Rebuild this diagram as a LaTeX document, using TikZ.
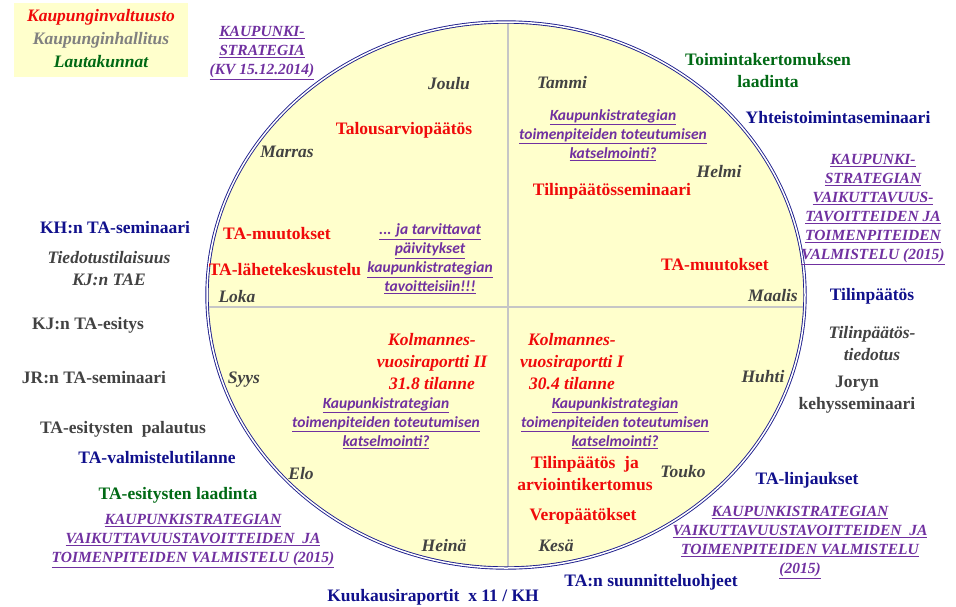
\documentclass[tikz,border=0pt]{standalone}
\usepackage{fontspec}
\setmainfont{Liberation Serif}
\newfontfamily\calib{Carlito}
\definecolor{tred}{RGB}{240,10,10}
\definecolor{tnavy}{RGB}{16,16,140}
\definecolor{tgreen}{RGB}{0,105,20}
\definecolor{tdark}{RGB}{66,66,66}
\definecolor{tgrey}{RGB}{128,128,128}
\definecolor{tpurp}{RGB}{112,48,160}
\definecolor{tfill}{RGB}{255,255,204}
\definecolor{tline}{RGB}{30,30,140}
\newcommand\uln[1]{\underline{#1}}
\tikzset{
  lbl/.style={inner sep=0pt, align=center, font=\fontsize{17.5}{22}\selectfont\bfseries},
  lbli/.style={inner sep=0pt, align=center, font=\fontsize{17.5}{22}\selectfont\bfseries\itshape},
  month/.style={lbli, text=tdark},
  redb/.style={lbl, text=tred},
  redi/.style={lbli, text=tred},
  navyb/.style={lbl, text=tnavy},
  greenb/.style={lbl, text=tgreen},
  darkb/.style={lbl, text=tdark},
  darki/.style={lbli, text=tdark},
  purps/.style={inner sep=0pt, align=center, text=tpurp, font=\fontsize{15.5}{19}\selectfont\bfseries\itshape},
  purpc/.style={inner sep=0pt, align=center, text=tpurp, font=\calib\fontsize{15.5}{19}\selectfont\bfseries\itshape},
  rim/.style={draw=tline, line width=0.9pt, double=white, double distance=1.5pt},
  divider/.style={draw=tline, line width=0.7pt, double=gray!45, double distance=1.2pt},
}
\begin{document}
\begin{tikzpicture}[x=1pt, y=-1pt]
\useasboundingbox (0,0) rectangle (956,606);

% legend box
\node[fill=tfill, minimum width=174pt, minimum height=74pt, inner sep=0pt] (legend) at (101,40) {};
\node[lbli, text=tred] (kv) at (101,17) {Kaupunginvaltuusto};
\node[lbli, text=tgrey] (kh) at (101,40) {Kaupunginhallitus};
\node[lbli, text=tgreen] (lk) at (101,62) {Lautakunnat};

% year wheel
\coordinate (c) at (506,295);
\fill[tfill] (c) ellipse [x radius=299pt, y radius=273pt];
\begin{scope}
  \clip (c) ellipse [x radius=299pt, y radius=273pt];
  \coordinate (vt) at (508,15);
  \coordinate (vb) at (508,575);
  \coordinate (hl) at (195,307);
  \coordinate (hr) at (815,307);
  \draw[divider] (vt) -- (vb);
  \draw[divider] (hl) -- (hr);
\end{scope}
\draw[rim] (c) ellipse [x radius=299pt, y radius=273pt];

% months
\node[month] (joulu) at (449,84) {Joulu};
\node[month] (marras) at (287,152) {Marras};
\node[month] (loka) at (237,297) {Loka};
\node[month] (syys) at (244,380) {Syys};
\node[month] (elo) at (301,474) {Elo};
\node[month] (heina) at (444,546) {Heinä};
\node[month] (kesa) at (556,546) {Kesä};
\node[month] (touko) at (683,472) {Touko};
\node[month] (huhti) at (763,377) {Huhti};
\node[month] (maalis) at (773,296) {Maalis};
\node[month] (helmi) at (719,172) {Helmi};
\node[month] (tammi) at (562,83) {Tammi};

% inside, upper left
\node[redb] (tapaatos) at (404,130) {Talousarviopäätös};
\node[redb] (tamuut1) at (277,234) {TA-muutokset};
\node[redb] (talahete) at (285,270) {TA-lähetekeskustelu};
\node[purpc] (paivit) at (430,259) {\uln{... ja tarvittavat}\\ \uln{päivitykset}\\ \uln{kaupunkistrategian}\\ \uln{tavoitteisiin!!!}};

% inside, upper right
\node[purpc] (katsel1) at (613,135) {\uln{Kaupunkistrategian}\\ \uln{toimenpiteiden toteutumisen}\\ \uln{katselmointi?}};
\node[redb] (tpsem) at (612,191) {Tilinpäätösseminaari};
\node[redb] (tamuut2) at (715,265) {TA-muutokset};

% inside, lower left
\node[redi] (kolm2) at (432,362) {Kolmannes-\\ vuosiraportti II\\ 31.8 tilanne};
\node[purpc] (katsel2) at (386,423) {\uln{Kaupunkistrategian}\\ \uln{toimenpiteiden toteutumisen}\\ \uln{katselmointi?}};

% inside, lower right
\node[redi] (kolm1) at (572,362) {Kolmannes-\\ vuosiraportti I\\ 30.4 tilanne};
\node[purpc] (katsel3) at (615,423) {\uln{Kaupunkistrategian}\\ \uln{toimenpiteiden toteutumisen}\\ \uln{katselmointi?}};
\node[redb] (tparv) at (585,474) {Tilinpäätös\ \ ja\\ arviointikertomus};
\node[redb] (veropaat) at (583,516) {Veropäätökset};

% outside, left
\node[purps] (kstrat) at (262,53) {\uln{KAUPUNKI-}\\ \uln{STRATEGIA}\\ \uln{(KV 15.12.2014)}};
\node[navyb] (khsem) at (115,228) {KH:n TA-seminaari};
\node[darki] (tiedot) at (109,269) {Tiedotustilaisuus\\ KJ:n TAE};
\node[darkb] (kjesit) at (88,325) {KJ:n TA-esitys};
\node[darkb] (jrsem) at (94,378) {JR:n TA-seminaari};
\node[darkb] (palaut) at (123,429) {TA-esitysten\ \ palautus};
\node[navyb] (valmtil) at (157,458) {TA-valmistelutilanne};
\node[greenb] (laadinta) at (178,495) {TA-esitysten laadinta};
\node[purps] (valm1) at (193,541) {\uln{KAUPUNKISTRATEGIAN}\\ \uln{VAIKUTTAVUUSTAVOITTEIDEN\ \ JA}\\ \uln{TOIMENPITEIDEN VALMISTELU (2015)}};
\node[navyb] (kuukausi) at (433,597) {Kuukausiraportit\ \ x 11 / KH};

% outside, right
\node[greenb] (toimkert) at (768,71) {Toimintakertomuksen\\ laadinta};
\node[navyb] (yhteis) at (838,118) {Yhteistoimintaseminaari};
\node[purps] (valm2) at (873,210) {\uln{KAUPUNKI-}\\ \uln{STRATEGIAN}\\ \uln{VAIKUTTAVUUS-}\\ \uln{TAVOITTEIDEN JA}\\ \uln{TOIMENPITEIDEN}\\ \uln{VALMISTELU (2015)}};
\node[navyb] (tilinp) at (872,296) {Tilinpäätös};
\node[darki] (tptied) at (872,344) {Tilinpäätös-\\ tiedotus};
\node[darkb] (joryn) at (857,395) {Joryn\\ kehysseminaari};
\node[navyb] (linjaus) at (807,480) {TA-linjaukset};
\node[purps] (valm3) at (800,543) {\uln{KAUPUNKISTRATEGIAN}\\ \uln{VAIKUTTAVUUSTAVOITTEIDEN\ \ JA}\\ \uln{TOIMENPITEIDEN VALMISTELU}\\ \uln{(2015)}};
\node[navyb] (suunn) at (651,582) {TA:n suunnitteluohjeet};
\end{tikzpicture}
\end{document}
